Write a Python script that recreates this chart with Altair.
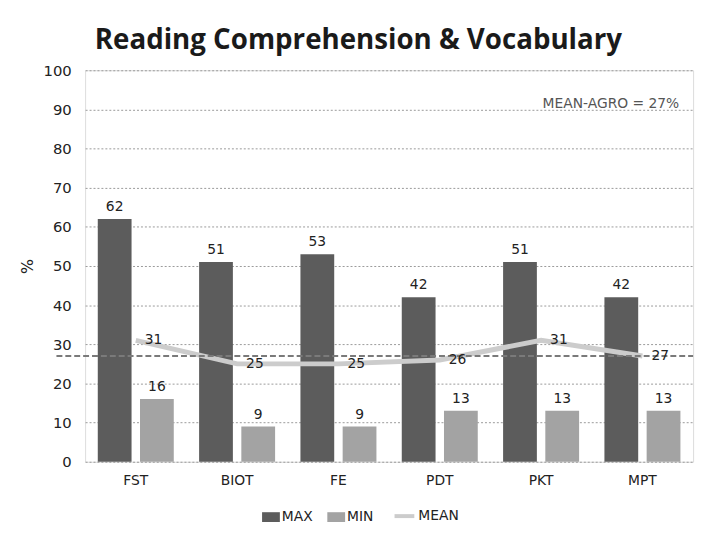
import altair as alt
import pandas as pd

categories = ["FST", "BIOT", "FE", "PDT", "PKT", "MPT"]
max_vals = [62, 51, 53, 42, 51, 42]
min_vals = [16, 9, 9, 13, 13, 13]
mean_vals = [31, 25, 25, 26, 31, 27]
mean_agro = 27
y_ticks = list(range(0, 101, 10))
bar_series = ["MAX", "MIN"]
bar_colors = ["#5c5c5c", "#a3a3a3"]

bars = pd.DataFrame({
    "cat": categories * 2,
    "series": ["MAX"] * len(categories) + ["MIN"] * len(categories),
    "value": max_vals + min_vals,
})
means = pd.DataFrame({"cat": categories, "series": ["MEAN"] * len(categories), "value": mean_vals})
agro = pd.DataFrame({"value": [mean_agro], "label": [f"MEAN-AGRO = {mean_agro}%"]})

FONT = "DejaVu Sans"
W, H = 615, 396

xscale = alt.Scale(domain=categories, paddingInner=0.25, paddingOuter=0.125)
yscale = alt.Scale(domain=[0, 100])

x = alt.X("cat:N", scale=xscale, sort=categories,
          axis=alt.Axis(title=None, labelAngle=0, labelFontSize=14, labelPadding=12,
                        ticks=False, domain=False, grid=False, labelFont=FONT, labelColor="#222"))
y = alt.Y("value:Q", scale=yscale,
          axis=alt.Axis(title="%", values=y_ticks, tickCount=11, labelOverlap=False, grid=True,
                        gridDash=[2, 2], gridColor="#9a9a9a",
                        domain=False, ticks=False, labelPadding=14, labelFontSize=15, labelFont=FONT,
                        labelColor="#222", titleFont=FONT, titleFontSize=16, titleFontWeight="normal",
                        titleColor="#222", titlePadding=8))
xoff = alt.XOffset("series:N", sort=bar_series, scale=alt.Scale(paddingInner=0.2))

bar_layer = alt.Chart(bars).mark_bar().encode(
    x=x, y=y, xOffset=xoff,
    color=alt.Color("series:N", sort=bar_series,
                    scale=alt.Scale(domain=bar_series, range=bar_colors),
                    legend=alt.Legend(title=None, orient="none", legendX=179, legendY=443,
                                      direction="horizontal", symbolType="M-1,-0.55H1V0.55H-1Z",
                                      symbolSize=324, symbolStrokeWidth=0, labelFontSize=14,
                                      labelFont=FONT, labelColor="#222", columnPadding=14,
                                      labelOffset=2)),
)
bar_text = alt.Chart(bars).mark_text(dy=-5, baseline="bottom", fontSize=14, font=FONT, color="#222").encode(
    x=x, y=y, xOffset=xoff, text="value:Q"
)
line_layer = alt.Chart(means).mark_line(strokeWidth=5).encode(
    x=x, y=y,
    stroke=alt.Stroke("series:N", scale=alt.Scale(domain=["MEAN"], range=["#cccccc"]),
                      legend=alt.Legend(title=None, orient="none", legendX=311, legendY=439,
                                        symbolType="stroke", symbolSize=400, symbolStrokeWidth=4,
                                        labelFontSize=14, labelFont=FONT, labelColor="#222",
                                        labelOffset=2)),
)
rule = alt.Chart(agro).mark_rule(strokeDash=[6, 3], strokeWidth=2, color="#7a7a7a").encode(
    y=y, x=alt.value(-29), x2=alt.value(W)
)
mean_text = alt.Chart(means).mark_text(dx=18, baseline="middle", fontSize=14, font=FONT, color="#222").encode(
    x=x, y=y, text="value:Q"
)
agro_text = alt.Chart(agro).mark_text(align="right", baseline="middle", fontSize=14, font=FONT,
                                      color="#555").encode(
    text="label:N", x=alt.value(601), y=alt.value(34)
)

chart = alt.layer(bar_layer, line_layer, rule, bar_text, mean_text, agro_text).properties(
    width=W, height=H,
    title=alt.TitleParams("Reading Comprehension & Vocabulary", font="Open Sans", fontSize=28,
                          fontWeight="bold", color="#1a1a1a", anchor="middle", dx=-31, offset=8),
    autosize="none",
    padding={"left": 78, "top": 60, "right": 8, "bottom": 60},
).configure_view(stroke="#9a9a9a", strokeDash=[2, 2]).configure(background="white")

chart.save("out.html", embed_options={"renderer": "svg", "actions": False})
